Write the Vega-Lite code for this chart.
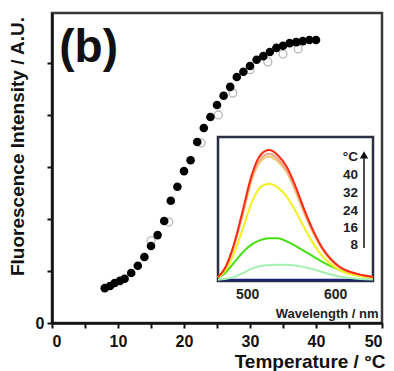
{
  "$schema": "https://vega.github.io/schema/vega-lite/v6.json",
  "width": 330,
  "height": 310,
  "autosize": {"type": "none"},
  "padding": {"left": 52, "top": 13, "right": 12, "bottom": 48},
  "background": "white",
  "config": {"view": {"stroke": "#3a3a3a", "strokeWidth": 2.5}, "font": "Liberation Sans"},
  "datasets": {
    "heat": [
      {"T": 8.0, "v": 0.67}, {"T": 8.8, "v": 0.71}, {"T": 9.5, "v": 0.77}, {"T": 10.3, "v": 0.81},
      {"T": 11.0, "v": 0.85}, {"T": 12.0, "v": 0.96}, {"T": 13.0, "v": 1.10}, {"T": 14.0, "v": 1.27},
      {"T": 15.0, "v": 1.48}, {"T": 16.0, "v": 1.69}, {"T": 17.0, "v": 1.96}, {"T": 18.0, "v": 2.35},
      {"T": 19.0, "v": 2.62}, {"T": 20.0, "v": 2.92}, {"T": 21.0, "v": 3.13}, {"T": 22.0, "v": 3.48},
      {"T": 23.0, "v": 3.75}, {"T": 24.0, "v": 3.96}, {"T": 25.0, "v": 4.19}, {"T": 26.0, "v": 4.37},
      {"T": 27.0, "v": 4.54}, {"T": 28.0, "v": 4.73}, {"T": 29.0, "v": 4.83}, {"T": 30.0, "v": 4.94},
      {"T": 31.0, "v": 5.06}, {"T": 32.0, "v": 5.13}, {"T": 33.0, "v": 5.21}, {"T": 34.0, "v": 5.29},
      {"T": 35.0, "v": 5.33}, {"T": 36.0, "v": 5.38}, {"T": 37.0, "v": 5.40}, {"T": 38.0, "v": 5.42},
      {"T": 39.0, "v": 5.44}, {"T": 40.0, "v": 5.44}
    ],
    "cool": [
      {"T": 15.0, "v": 1.58}, {"T": 17.7, "v": 1.94}, {"T": 22.6, "v": 3.46}, {"T": 25.2, "v": 4.0},
      {"T": 27.4, "v": 4.42}, {"T": 30.0, "v": 4.87}, {"T": 32.7, "v": 5.02}, {"T": 35.0, "v": 5.17},
      {"T": 37.3, "v": 5.27}
    ],
    "panel": [{"label": "(b)", "T": 1.1, "v": 5.02}],
    "frame": [{"wl": 467, "wl2": 643, "int": -0.01, "int2": 1.1}],
    "spectra": [
      {"s": "a", "wl": 467, "int": 0}, {"s": "a", "wl": 643, "int": 0},
      {"s": "b", "wl": 467, "int": 0.0}, {"s": "b", "wl": 475, "int": 0.005}, {"s": "b", "wl": 485, "int": 0.02}, {"s": "b", "wl": 495, "int": 0.05}, {"s": "b", "wl": 505, "int": 0.085}, {"s": "b", "wl": 515, "int": 0.105}, {"s": "b", "wl": 525, "int": 0.113}, {"s": "b", "wl": 535, "int": 0.115}, {"s": "b", "wl": 545, "int": 0.115}, {"s": "b", "wl": 555, "int": 0.11}, {"s": "b", "wl": 565, "int": 0.097}, {"s": "b", "wl": 575, "int": 0.08}, {"s": "b", "wl": 585, "int": 0.06}, {"s": "b", "wl": 595, "int": 0.04}, {"s": "b", "wl": 605, "int": 0.025}, {"s": "b", "wl": 615, "int": 0.015}, {"s": "b", "wl": 625, "int": 0.008}, {"s": "b", "wl": 635, "int": 0.004}, {"s": "b", "wl": 643, "int": 0.002},
      {"s": "c", "wl": 467, "int": 0.015}, {"s": "c", "wl": 475, "int": 0.05}, {"s": "c", "wl": 485, "int": 0.13}, {"s": "c", "wl": 495, "int": 0.21}, {"s": "c", "wl": 505, "int": 0.27}, {"s": "c", "wl": 515, "int": 0.305}, {"s": "c", "wl": 525, "int": 0.32}, {"s": "c", "wl": 535, "int": 0.32}, {"s": "c", "wl": 545, "int": 0.295}, {"s": "c", "wl": 555, "int": 0.26}, {"s": "c", "wl": 565, "int": 0.22}, {"s": "c", "wl": 575, "int": 0.18}, {"s": "c", "wl": 585, "int": 0.14}, {"s": "c", "wl": 595, "int": 0.105}, {"s": "c", "wl": 605, "int": 0.075}, {"s": "c", "wl": 615, "int": 0.05}, {"s": "c", "wl": 625, "int": 0.035}, {"s": "c", "wl": 635, "int": 0.025}, {"s": "c", "wl": 643, "int": 0.02},
      {"s": "d", "wl": 467, "int": 0.015}, {"s": "d", "wl": 475, "int": 0.067}, {"s": "d", "wl": 485, "int": 0.2}, {"s": "d", "wl": 495, "int": 0.39}, {"s": "d", "wl": 505, "int": 0.59}, {"s": "d", "wl": 515, "int": 0.71}, {"s": "d", "wl": 525, "int": 0.74}, {"s": "d", "wl": 535, "int": 0.71}, {"s": "d", "wl": 545, "int": 0.64}, {"s": "d", "wl": 555, "int": 0.53}, {"s": "d", "wl": 565, "int": 0.4}, {"s": "d", "wl": 575, "int": 0.28}, {"s": "d", "wl": 585, "int": 0.185}, {"s": "d", "wl": 595, "int": 0.12}, {"s": "d", "wl": 605, "int": 0.074}, {"s": "d", "wl": 615, "int": 0.048}, {"s": "d", "wl": 625, "int": 0.033}, {"s": "d", "wl": 635, "int": 0.022}, {"s": "d", "wl": 643, "int": 0.015},
      {"s": "e", "wl": 467, "int": 0.02}, {"s": "e", "wl": 475, "int": 0.085}, {"s": "e", "wl": 485, "int": 0.256}, {"s": "e", "wl": 495, "int": 0.5}, {"s": "e", "wl": 505, "int": 0.76}, {"s": "e", "wl": 515, "int": 0.91}, {"s": "e", "wl": 525, "int": 0.95}, {"s": "e", "wl": 535, "int": 0.91}, {"s": "e", "wl": 545, "int": 0.83}, {"s": "e", "wl": 555, "int": 0.68}, {"s": "e", "wl": 565, "int": 0.51}, {"s": "e", "wl": 575, "int": 0.36}, {"s": "e", "wl": 585, "int": 0.24}, {"s": "e", "wl": 595, "int": 0.15}, {"s": "e", "wl": 605, "int": 0.095}, {"s": "e", "wl": 615, "int": 0.062}, {"s": "e", "wl": 625, "int": 0.043}, {"s": "e", "wl": 635, "int": 0.029}, {"s": "e", "wl": 643, "int": 0.019},
      {"s": "f", "wl": 467, "int": 0.02}, {"s": "f", "wl": 475, "int": 0.087}, {"s": "f", "wl": 485, "int": 0.26}, {"s": "f", "wl": 495, "int": 0.51}, {"s": "f", "wl": 505, "int": 0.78}, {"s": "f", "wl": 515, "int": 0.93}, {"s": "f", "wl": 525, "int": 0.97}, {"s": "f", "wl": 535, "int": 0.93}, {"s": "f", "wl": 545, "int": 0.84}, {"s": "f", "wl": 555, "int": 0.7}, {"s": "f", "wl": 565, "int": 0.52}, {"s": "f", "wl": 575, "int": 0.37}, {"s": "f", "wl": 585, "int": 0.24}, {"s": "f", "wl": 595, "int": 0.155}, {"s": "f", "wl": 605, "int": 0.097}, {"s": "f", "wl": 615, "int": 0.063}, {"s": "f", "wl": 625, "int": 0.044}, {"s": "f", "wl": 635, "int": 0.03}, {"s": "f", "wl": 643, "int": 0.02},
      {"s": "g", "wl": 467, "int": 0.02}, {"s": "g", "wl": 475, "int": 0.09}, {"s": "g", "wl": 485, "int": 0.27}, {"s": "g", "wl": 495, "int": 0.53}, {"s": "g", "wl": 505, "int": 0.8}, {"s": "g", "wl": 515, "int": 0.96}, {"s": "g", "wl": 525, "int": 1.0}, {"s": "g", "wl": 535, "int": 0.96}, {"s": "g", "wl": 545, "int": 0.87}, {"s": "g", "wl": 555, "int": 0.72}, {"s": "g", "wl": 565, "int": 0.54}, {"s": "g", "wl": 575, "int": 0.38}, {"s": "g", "wl": 585, "int": 0.25}, {"s": "g", "wl": 595, "int": 0.16}, {"s": "g", "wl": 605, "int": 0.1}, {"s": "g", "wl": 615, "int": 0.065}, {"s": "g", "wl": 625, "int": 0.045}, {"s": "g", "wl": 635, "int": 0.03}, {"s": "g", "wl": 643, "int": 0.02}
    ],
    "legend": [
      {"label": "°C", "wl": 626, "int": 0.946}, {"label": "40", "wl": 626, "int": 0.807},
      {"label": "32", "wl": 626, "int": 0.668}, {"label": "24", "wl": 626, "int": 0.533},
      {"label": "16", "wl": 626, "int": 0.399}, {"label": "8", "wl": 626, "int": 0.264}
    ],
    "arrow": [{"wl": 632.8, "int": 0.244, "int2": 0.95}],
    "head": [{"wl": 632.8, "int": 0.962}]
  },
  "layer": [
    {
      "encoding": {
        "x": {
          "field": "T", "type": "quantitative",
          "scale": {"domain": [0, 50], "nice": false, "zero": false},
          "axis": {
            "orient": "bottom", "grid": false,
            "values": [0, 5, 10, 15, 20, 25, 30, 35, 40, 45, 50],
            "labelExpr": "datum.value % 10 === 0 ? datum.label : ''",
            "domainColor": "#111", "domainWidth": 2.5,
            "tickColor": "#111", "tickWidth": 2, "tickSize": 5,
            "labelFont": "Liberation Sans", "labelFontWeight": "bold", "labelFontSize": 16, "labelColor": "#111", "labelPadding": 5,
            "title": "Temperature / °C", "titleFont": "Liberation Sans", "titleFontWeight": "bold", "titleFontSize": 19, "titleColor": "#111",
            "titleX": 333, "titleY": 38, "titleAlign": "right", "titleBaseline": "middle"
          }
        },
        "y": {
          "field": "v", "type": "quantitative",
          "scale": {"domain": [0, 5.96], "nice": false, "zero": false},
          "axis": {
            "orient": "left", "grid": false,
            "values": [0, 1, 2, 3, 4, 5],
            "labelExpr": "datum.value === 0 ? '0' : ''",
            "domainColor": "#111", "domainWidth": 2.5,
            "tickColor": "#111", "tickWidth": 2, "tickSize": 5,
            "labelFont": "Liberation Sans", "labelFontWeight": "bold", "labelFontSize": 16, "labelColor": "#111", "labelPadding": 3,
            "title": "Fluorescence Intensity / A.U.", "titleFont": "Liberation Sans", "titleFontWeight": "bold", "titleFontSize": 19, "titleColor": "#111",
            "titleX": -35, "titleY": 133, "titleAlign": "center", "titleBaseline": "middle", "titleAngle": -90
          }
        }
      },
      "layer": [
        {"data": {"name": "cool"}, "mark": {"type": "point", "filled": false, "stroke": "#9a9a9a", "strokeWidth": 1.3, "size": 62}},
        {"data": {"name": "heat"}, "mark": {"type": "circle", "color": "#000000", "opacity": 1, "size": 74}},
        {"data": {"name": "panel"}, "mark": {"type": "text", "font": "Liberation Sans", "fontWeight": "bold", "fontSize": 46, "align": "left", "baseline": "alphabetic", "color": "#111"},
         "encoding": {"text": {"field": "label"}}}
      ]
    },
    {
      "encoding": {
        "x": {
          "field": "wl", "type": "quantitative",
          "scale": {"domain": [467, 643], "range": [166, 321], "nice": false, "zero": false},
          "axis": {
            "orient": "bottom", "offset": -42, "grid": false, "domain": false, "ticks": false,
            "values": [500, 600],
            "labelFont": "Liberation Sans", "labelFontWeight": "bold", "labelFontSize": 14, "labelColor": "#222", "labelPadding": 6,
            "title": "Wavelength / nm", "titleFont": "Liberation Sans", "titleFontWeight": "bold", "titleFontSize": 13, "titleColor": "#222",
            "titleX": 326, "titleY": 32, "titleAlign": "right", "titleBaseline": "middle"
          }
        },
        "y": {
          "field": "int", "type": "quantitative",
          "scale": {"domain": [-0.01, 1.1], "range": [268, 124], "nice": false, "zero": false},
          "axis": null
        }
      },
      "layer": [
        {"data": {"name": "frame"}, "mark": {"type": "rect", "fill": "white", "stroke": "#2b3040", "strokeWidth": 2.5},
         "encoding": {"x2": {"field": "wl2"}, "y2": {"field": "int2"}}},
        {"data": {"name": "spectra"}, "mark": {"type": "line", "interpolate": "monotone"},
         "encoding": {
           "color": {"field": "s", "type": "nominal", "legend": null,
             "scale": {"domain": ["a", "b", "c", "d", "e", "f", "g"], "range": ["#1c1f7a", "#a3f0b0", "#46e012", "#f4f020", "#f4cc70", "#eea58a", "#ff2a10"]}},
           "strokeWidth": {"field": "s", "type": "nominal", "legend": null,
             "scale": {"domain": ["a", "b", "c", "d", "e", "f", "g"], "range": [2, 2, 2.5, 2, 1.5, 1.5, 3]}}
         }},
        {"data": {"name": "legend"}, "mark": {"type": "text", "font": "Liberation Sans", "fontWeight": "bold", "fontSize": 13.5, "align": "right", "baseline": "middle", "color": "#222"},
         "encoding": {"text": {"field": "label"}}},
        {"data": {"name": "arrow"}, "mark": {"type": "rule", "color": "#111", "strokeWidth": 1.5},
         "encoding": {"y2": {"field": "int2"}}},
        {"data": {"name": "head"}, "mark": {"type": "point", "shape": "triangle-up", "filled": true, "color": "#111", "opacity": 1, "size": 70}}
      ]
    }
  ],
  "resolve": {"scale": {"x": "independent", "y": "independent"}, "axis": {"x": "independent", "y": "independent"}}
}
